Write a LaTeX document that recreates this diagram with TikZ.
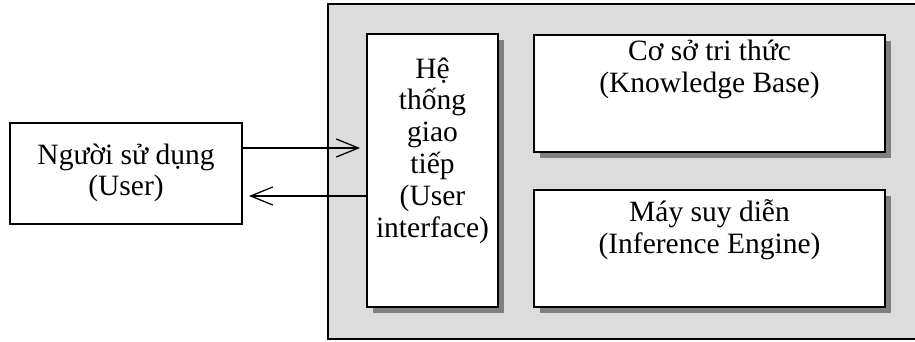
\documentclass[tikz,border=0pt]{standalone}
\usepackage{fontspec}
\setmainfont{Liberation Serif}
\usetikzlibrary{arrows.meta,shadows}
\definecolor{panelgray}{HTML}{DCDCDC}
\definecolor{shadowgray}{HTML}{808080}
\begin{document}
\begin{tikzpicture}[x=1pt,y=-1pt,
  panelbox/.style={draw=black,line width=1.5pt,fill=panelgray,inner sep=0pt,outer sep=0pt},
  plainbox/.style={draw=black,line width=1.5pt,fill=white,inner sep=0pt,outer sep=0pt},
  box/.style={draw=black,line width=2.2pt,fill=white,inner sep=0pt,outer sep=0pt,
    drop shadow={shadow xshift=5.5pt,shadow yshift=-5.5pt,fill=shadowgray,opacity=1}},
  txt/.style={anchor=base,inner sep=0pt,font=\fontsize{29.5}{32}\selectfont},
  arr/.style={line width=1.3pt,-{Straight Barb[length=22pt,width=18pt]}}]
\useasboundingbox (0,0) rectangle (915,341);
\clip (0,0) rectangle (915,341);
% panel
\node[panelbox,minimum width=592pt,minimum height=335pt] (panel) at (624,171.5) {};
% boxes
\node[plainbox,minimum width=232pt,minimum height=101pt] (u) at (126,173.5) {};
\node[box,minimum width=131pt,minimum height=273pt] (ui) at (432.5,170.5) {};
\node[box,minimum width=351pt,minimum height=117pt] (kb) at (709.5,93.5) {};
\node[box,minimum width=351pt,minimum height=117pt] (ie) at (709.5,248.5) {};
% texts
\node[txt] (u1) at (126,164) {Người sử dụng};
\node[txt] (u2) at (126,195) {(User)};
\node[txt] (ui1) at (432.5,78) {Hệ};
\node[txt] (ui2) at (432.5,109.8) {thống};
\node[txt] (ui3) at (432.5,141.6) {giao};
\node[txt] (ui4) at (432.5,173.4) {tiếp};
\node[txt] (ui5) at (432.5,205.2) {(User};
\node[txt] (ui6) at (432.5,237) {interface)};
\node[txt] (kb1) at (709.5,60) {Cơ sở tri thức};
\node[txt] (kb2) at (709.5,92) {(Knowledge Base)};
\node[txt] (ie1) at (709.5,221) {Máy suy diễn};
\node[txt] (ie2) at (709.5,253) {(Inference Engine)};
% arrows
\coordinate (a1) at (360,148);
\coordinate (a2) at (249,196);
\draw[arr] (u.east |- a1) -- (a1);
\draw[arr] (ui.west |- a2) -- (a2);
\end{tikzpicture}
\end{document}
